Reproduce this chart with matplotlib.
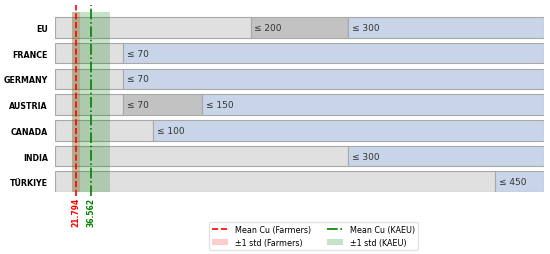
import matplotlib
matplotlib.use("Agg")
import matplotlib.pyplot as plt
import matplotlib.transforms as mtransforms
from matplotlib.patches import Patch
from matplotlib.lines import Line2D

countries = ["EU", "FRANCE", "GERMANY", "AUSTRIA", "CANADA", "INDIA", "TÜRKIYE"]
# limit thresholds (mg/kg) per country
limits = [[200, 300], [70], [70], [70, 150], [100], [300], [450]]
xmax = 500

mean_farmers = 21.794
std_farmers = 4.0
mean_kaeu = 36.562
std_kaeu = 19.4

c_free = "#e0e0e0"
c_mid = "#c2c2c2"
c_lim = "#c8d5e8"
c_edge = "#a8a8a8"

fig, ax = plt.subplots(figsize=(5.5, 2.55), dpi=100)
fig.subplots_adjust(left=0.1, right=0.989, top=0.949, bottom=0.243)

h = 0.8
for i, (name, lims) in enumerate(zip(countries, limits)):
    ax.barh(i, lims[0], height=h, color=c_free, edgecolor=c_edge, linewidth=0.8)
    for j, t in enumerate(lims):
        end = lims[j + 1] if j + 1 < len(lims) else xmax
        col = c_lim if j == len(lims) - 1 else c_mid
        ax.barh(i, end - t, left=t, height=h, color=col, edgecolor=c_edge, linewidth=0.8)
        ax.text(t + 4, i, "≤ " + str(t), va="center", ha="left", fontsize=6.5, color="#333333")

ax.axvspan(mean_farmers - std_farmers, mean_farmers + std_farmers, color="red", alpha=0.18, lw=0)
ax.axvspan(mean_kaeu - std_kaeu, mean_kaeu + std_kaeu, color="green", alpha=0.22, lw=0)
ax.axvline(mean_farmers, ymin=-0.02, ymax=1.04, color="red", ls="--", lw=1.2, clip_on=False)
ax.axvline(mean_kaeu, ymin=-0.02, ymax=1.04, color="green", ls="-.", lw=1.2, clip_on=False)

trans = mtransforms.blended_transform_factory(ax.transData, ax.transAxes)
ax.text(mean_farmers, -0.025, f"{mean_farmers:.3f}", transform=trans, rotation=90,
        ha="center", va="top", fontsize=5.5, color="red", fontweight="bold")
ax.text(mean_kaeu, -0.025, f"{mean_kaeu:.3f}", transform=trans, rotation=90,
        ha="center", va="top", fontsize=5.5, color="green", fontweight="bold")

ax.set_xlim(0, xmax)
ax.set_ylim(len(countries) - 0.6, -0.6)
ax.set_yticks(range(len(countries)))
ax.set_yticklabels(countries, fontsize=5.7, fontweight="bold")
ax.tick_params(axis="y", length=0, pad=5)
ax.set_xticks([])
for s in ax.spines.values():
    s.set_visible(False)

handles = [
    Line2D([], [], color="red", ls="--", lw=1.2),
    Patch(facecolor="red", alpha=0.2),
    Line2D([], [], color="green", ls="-.", lw=1.2),
    Patch(facecolor="green", alpha=0.22),
]
labels = ["Mean Cu (Farmers)", "±1 std (Farmers)", "Mean Cu (KAEU)", "±1 std (KAEU)"]
fig.legend(handles, labels, loc="lower center", bbox_to_anchor=(0.57, 0.0), ncol=2,
           fontsize=5.8, frameon=True, handlelength=2, columnspacing=2.0, edgecolor="#dddddd")

fig.savefig("out.png", dpi=100)
